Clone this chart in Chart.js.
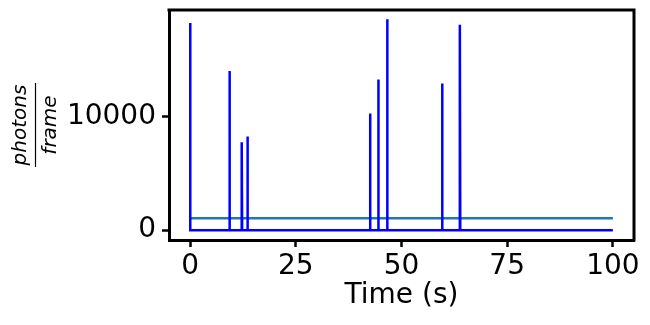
<!DOCTYPE html>
<html>
<head>
<meta charset="utf-8">
<script src="https://cdn.jsdelivr.net/npm/chart.js@4/dist/chart.umd.min.js"></script>
<style>
    html, body { margin: 0; padding: 0; background: #fff; }
    #wrap { width: 650px; height: 325px; }
</style>
</head>
<body>
<div id="wrap"><canvas id="traceChart"></canvas></div>
<script>
    // spikes (time in s, height in photons/frame)
    const spikeTimes = [0, 9.3, 12.2, 13.55, 42.55, 44.5, 46.6, 59.6, 63.8];
    const spikeHeights = [18180, 13970, 7720, 8220, 10235, 13220, 18510, 12870, 18040];
    const traceStart = 0;
    const traceEnd = 100;
    const thresholdValue = 1050;

    const xTicks = [0, 25, 50, 75, 100];
    const yTicks = [0, 10000];

    const fontFamily = 'DejaVu Sans';

    const traceData = [{x: traceStart, y: 0}];
    spikeTimes.forEach((t, i) => {
        traceData.push({x: t, y: 0});
        traceData.push({x: t, y: spikeHeights[i]});
        traceData.push({x: t + 0.1, y: 0});
    });
    traceData.push({x: traceEnd, y: 0});

    const thresholdData = [
        {x: traceStart, y: thresholdValue},
        {x: traceEnd, y: thresholdValue}
    ];

    // top and right spines + the fraction y label
    const framePlugin = {
        id: 'frame',
        afterDraw(chart) {
            const ctx = chart.ctx;
            const a = chart.chartArea;
            ctx.save();
            ctx.strokeStyle = '#000';
            ctx.lineWidth = 3;
            ctx.beginPath();
            ctx.moveTo(a.left - 1.5, a.top);
            ctx.lineTo(a.right, a.top);
            ctx.lineTo(a.right, a.bottom + 1.5);
            ctx.stroke();

            const cy = (a.top + a.bottom) / 2;
            ctx.translate(35.5, cy);
            ctx.rotate(-Math.PI / 2);
            ctx.fillStyle = '#000';
            ctx.font = 'italic 20px ' + fontFamily;
            ctx.textAlign = 'center';
            ctx.textBaseline = 'alphabetic';
            ctx.fillText('photons', 0, -10);
            ctx.fillText('frame', 0, 20);
            ctx.lineWidth = 1.2;
            ctx.beginPath();
            ctx.moveTo(-42, 0);
            ctx.lineTo(42, 0);
            ctx.stroke();
            ctx.restore();
        }
    };

    const noEdgePadding = s => {
        s.paddingTop = 0;
        s.paddingBottom = 0;
        s.paddingLeft = 0;
        s.paddingRight = 0;
    };

    new Chart(document.getElementById('traceChart'), {
        type: 'line',
        data: {
            datasets: [
                {
                    data: traceData,
                    borderColor: '#0000ff',
                    borderWidth: 2.5,
                    pointRadius: 0,
                    tension: 0
                },
                {
                    data: thresholdData,
                    borderColor: '#1f77b4',
                    borderWidth: 2.5,
                    pointRadius: 0,
                    tension: 0
                }
            ]
        },
        options: {
            responsive: true,
            maintainAspectRatio: false,
            animation: false,
            events: [],
            layout: {padding: {left: 0, top: 10, right: 16, bottom: 0}},
            plugins: {
                legend: {display: false},
                tooltip: {enabled: false}
            },
            scales: {
                x: {
                    type: 'linear',
                    min: -5,
                    max: 105,
                    afterBuildTicks: s => { s.ticks = xTicks.map(v => ({value: v})); },
                    afterFit: s => { s.height = 85; noEdgePadding(s); },
                    border: {display: true, color: '#000', width: 3},
                    grid: {drawOnChartArea: false, tickLength: 7, tickWidth: 2.5, tickColor: '#000'},
                    ticks: {
                        color: '#000',
                        padding: 3,
                        maxRotation: 0,
                        autoSkip: false,
                        callback: v => String(v),
                        font: {family: fontFamily, size: 28}
                    },
                    title: {
                        display: true,
                        text: 'Time (s)',
                        color: '#000',
                        padding: {top: 0, bottom: 12},
                        font: {family: fontFamily, size: 28}
                    }
                },
                y: {
                    min: -860,
                    max: 19330,
                    afterBuildTicks: s => { s.ticks = yTicks.map(v => ({value: v})); },
                    afterFit: s => { s.width = 169; noEdgePadding(s); },
                    border: {display: true, color: '#000', width: 3},
                    grid: {drawOnChartArea: false, tickLength: 7, tickWidth: 2.5, tickColor: '#000'},
                    ticks: {
                        color: '#000',
                        padding: 6,
                        autoSkip: false,
                        callback: v => String(v),
                        font: {family: fontFamily, size: 28}
                    }
                }
            }
        },
        plugins: [framePlugin]
    });
</script>
</body>
</html>
